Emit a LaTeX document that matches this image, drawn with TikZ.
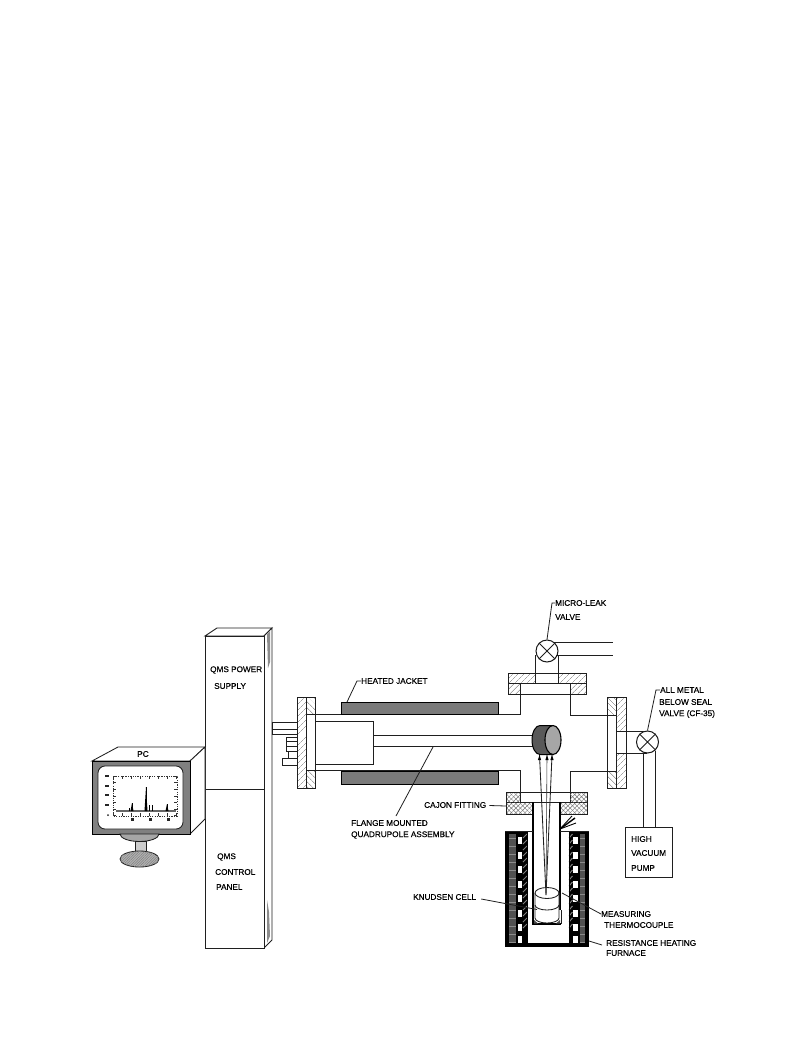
\documentclass[tikz,border=0pt]{standalone}
\usepackage{fontspec}
\setmainfont{Liberation Sans}[BoldFont={Liberation Sans},BoldFeatures={FakeBold=0.35}]
\usetikzlibrary{patterns.meta}
\tikzset{
 ln/.style={draw=black!88,line width=0.85pt},
 thin ln/.style={draw=black!80,line width=0.6pt},
 hatchA/.style={ln,pattern={Lines[angle=45,distance=4pt,line width=0.45pt]},pattern color=black!55},
 hatchB/.style={ln,pattern={Lines[angle=-45,distance=4pt,line width=0.45pt]},pattern color=black!55},
 xhatch/.style={ln,pattern={Lines[angle=45,distance=3.2pt,line width=0.45pt]},pattern color=black!55,
   postaction={pattern={Lines[angle=-45,distance=3.2pt,line width=0.45pt]},pattern color=black!55}},
 jacket/.style={draw=black,line width=0.9pt,fill=black!52},
 lbl/.style={anchor=west,inner sep=0pt,font=\fontsize{8.2}{9}\selectfont\bfseries,text=black},
 leader/.style={draw=black!88,line width=0.8pt},
 valve/.style={circle,draw=black!90,line width=1pt,fill=white,minimum size=22pt,inner sep=0pt},
 peak/.style={draw=black,line width=1pt},
 tick/.style={draw=black!80,line width=0.45pt},
}
\begin{document}
\begin{tikzpicture}[x=1pt,y=-1pt]
\useasboundingbox[fill=white] (0,0) rectangle (793,1057);

% ---- column
\draw[ln,fill=white] (205,636) -- (217,628) -- (272,628) -- (264,636) -- cycle;
\draw[ln,fill=white] (264,636) -- (272,628) -- (272,940) -- (264,948) -- cycle;
\fill[black!45] (267,634) -- (270,631) -- (270,662) -- (268,668) -- cycle;
\fill[black!45] (267,900) -- (269,912) -- (270,936) -- (267,943) -- cycle;
\draw[ln,fill=white] (205,636) rectangle (264,948);
\draw[ln] (205,789) -- (264,789);
\node[lbl] (qms1) at (210,670) {QMS POWER};
\node[lbl] (qms2) at (214,686) {SUPPLY};
\node[lbl] (qms3) at (217,857) {QMS};
\node[lbl] (qms4) at (215,872) {CONTROL};
\node[lbl] (qms5) at (216,887) {PANEL};

% ---- monitor
\draw[ln,fill=white] (92,761) -- (118,747) -- (205,747) -- (190,761) -- cycle;
\draw[ln,fill=white] (190,761) -- (205,747) -- (205,819) -- (190,834) -- cycle;
\draw[draw=black,line width=0.9pt,fill=black!50] (92,761) rectangle (190,834);
\draw[ln,fill=white,rounded corners=7pt] (98,766) rectangle (183,829);
\node[lbl,anchor=center] (pc) at (143,754) {PC};
% stand
\draw[ln,fill=black!35] (120,834) arc[start angle=180,end angle=0,x radius=19.5,y radius=7.5] -- cycle;
\draw[ln,fill=black!20] (135,841) rectangle (146,851);
\draw[ln,fill=black!30,postaction={pattern={Lines[angle=45,distance=1.8pt,line width=0.5pt]},pattern color=black!50}] (139.5,859) ellipse[x radius=19.5,y radius=8];
% plot
\draw[tick,dash pattern=on 1.2pt off 1.2pt] (113,776) rectangle (177,816);
\foreach \i in {0,...,6} {
  \draw[tick] (113,{776+\i*6.6}) -- (116,{776+\i*6.6});
  \draw[tick] (177,{776+\i*6.6}) -- (174,{776+\i*6.6});
}
\foreach \i in {0,...,7} {
  \draw[tick] ({113+\i*9.1},776) -- ({113+\i*9.1},779);
  \draw[tick] ({113+\i*9.1},816) -- ({113+\i*9.1},813);
}
\draw[line width=1.1pt,draw=black!60] (116,811) -- (176,811);
\foreach \px/\py in {129/808,132/803,146/787,149/805,152/805,167/804} {
  \draw[peak] (\px,811) -- (\px,\py);
}
\fill[black] (144.5,811) -- (146,787) -- (147.5,811) -- cycle;
\fill[black] (130.5,811) -- (132,803) -- (133.5,811) -- cycle;
\fill[black] (165.5,811) -- (167,804) -- (168.5,811) -- cycle;
\foreach \yy in {776,786,795,805} { \fill[black!85] (105,{\yy-1}) rectangle (109,{\yy+1}); }
\fill[black!85] (108,815) circle[radius=1];
\foreach \xx in {132,150,168} { \fill[black!85] ({\xx-1.5},818) rectangle ({\xx+1.5},821); }

% ---- left feedthrough
\draw[ln] (272,722) -- (297,722) (272,729) -- (297,729) (272,734) -- (297,734);
\draw[ln] (272,722) -- (272,734);
\draw[ln] (286,737) rectangle (297,751);
\draw[ln] (286,741.5) -- (297,741.5) (286,746) -- (297,746);
\draw[ln] (282,758) rectangle (297,765);
\draw[ln] (288,751) -- (288,758);

% ---- chamber walls
\draw[ln] (306,714) -- (520,714) -- (520,694);
\draw[ln] (306,770) -- (520,770) -- (520,792);
\draw[ln] (570,694) -- (570,715) -- (607,715);
\draw[ln] (570,792) -- (570,771) -- (607,771);
\draw[jacket] (341,702) rectangle (498,714);
\draw[jacket] (341,771) rectangle (498,784);

% left flange
\draw[hatchA] (297,697) rectangle (306,788);
\draw[ln] (306,697) rectangle (315,788);
\draw[hatchB] (306,697) rectangle (315,714);
\draw[hatchB] (306,770) rectangle (315,788);

% inner box and quadrupole
\draw[ln] (315,721) -- (373,721) -- (373,764) -- (315,764);
\draw[ln] (373,735) -- (533,735);
\draw[ln] (373,746) -- (533,746);

% top flange
\draw[ln] (508,673) rectangle (586,694);
\draw[hatchA] (508,673) rectangle (535,683);
\draw[hatchA] (558,673) rectangle (586,683);
\draw[hatchA] (508,683) rectangle (520,694);
\draw[hatchA] (570,683) rectangle (586,694);
\draw[ln] (535,683) -- (570,683);

% right flange
\draw[ln] (607,697) rectangle (626,788);
\draw[hatchB] (607,697) rectangle (616,715);
\draw[hatchB] (607,771) rectangle (616,788);
\draw[hatchA] (616,697) rectangle (626,731);
\draw[hatchA] (616,753) rectangle (626,788);
\draw[ln] (616,697) -- (616,788);

% micro-leak valve
\node[valve] (v1) at (547,651) {};
\draw[ln] (v1.north west) -- (v1.south east) (v1.north east) -- (v1.south west);
\draw[ln] (535.5,655) -- (535.5,673) (558,655) -- (558,673);
\coordinate (v1a) at (613,642);
\coordinate (v1b) at (613,655);
\draw[ln] (553,642) -- (v1a) (556,655) -- (v1b);
\node[lbl] (micro) at (555,603) {MICRO-LEAK};
\node[lbl] at (555,617) {VALVE};
\coordinate (micro knee) at (552,603);
\draw[leader] (micro.west) -- (micro knee) -- (v1.north);

% all metal valve
\draw[ln] (626,731) -- (647,731) (626,753) -- (647,753);
\node[valve] (v2) at (647.5,742) {};
\draw[ln] (v2.north west) -- (v2.south east) (v2.north east) -- (v2.south west);
\node[lbl] (allm) at (660,690) {ALL METAL};
\node[lbl] at (659,702) {BELOW SEAL};
\node[lbl] at (659,714) {VALVE (CF-35)};
\coordinate (allm knee) at (656,690);
\draw[leader] (allm.west) -- (allm knee) -- (v2.north);

% pump
\node[draw=black!88,line width=0.85pt,minimum width=47pt,minimum height=50pt,inner sep=0pt] (pump) at (648.5,852) {};
\draw[ln] (643,753) -- (643,827) (655,751) -- (655,827);
\node[lbl] at (631,839) {HIGH};
\node[lbl] at (631,853) {VACUUM};
\node[lbl] at (631,868) {PUMP};

% ---- furnace
\fill[black] (505,831) rectangle (589,947);
\fill[black!68] (509,834) rectangle (516,943);
\fill[black!68] (580,834) rectangle (585,943);
\foreach \yy in {838,846,...,942} {
  \draw[black!45,line width=0.6pt] (509,\yy) -- (516,\yy);
  \draw[black!45,line width=0.6pt] (580,\yy) -- (585,\yy);
}
\fill[white] (527,831) rectangle (569,943);
\foreach \yy in {837,852,866,881,895,910,924,936} {
  \fill[white] (517.5,\yy) rectangle (522,{\yy+7});
  \fill[white] (573,\yy) rectangle (578,{\yy+7});
}
\foreach \yy in {834,840,...,924} {
  \draw[black!50,line width=1pt] (523,{\yy+4}) -- (527,\yy);
  \draw[black!50,line width=1pt] (569,{\yy+4}) -- (572.5,\yy);
}
\draw[line width=0.9pt,black] (527,831) -- (527,943) -- (569,943) -- (569,831);

% ---- cajon fitting
\fill[white] (506,792) rectangle (587,814);
\draw[xhatch] (506,792) rectangle (520,802);
\draw[xhatch] (570,792) rectangle (587,802);
\draw[xhatch] (506,802) rectangle (533,814);
\draw[xhatch] (559,802) rectangle (587,814);
\draw[ln] (506,792) rectangle (587,814);
\draw[ln] (520,802) -- (570,802);

% ---- inner tube
\fill[white] (533,814) rectangle (560,924);
\draw[black,line width=1.1pt] (533,802) -- (533,924) -- (561,924);
\draw[ln] (561,910) -- (561,924);
\draw[black,line width=1.6pt] (560,802) -- (560,910);
\draw[ln] (505,831) -- (533,831) (560,831) -- (589,831);
% thermocouple tail
\coordinate (tail) at (560,829);
\coordinate (tail a) at (575,818);
\coordinate (tail b) at (576,823);
\coordinate (tail c) at (572,816);
\draw[black,line width=1.4pt] (tail) -- (tail a);
\draw[black,line width=0.9pt] (tail) -- (tail b) (tail) -- (tail c);

% ---- knudsen cell
\draw[ln,fill=white] (535,893) -- (535,918) arc[start angle=180,end angle=0,x radius=12,y radius=5] -- (559,893);
\draw[ln,fill=white] (547,893) ellipse[x radius=12,y radius=5.5];
\draw[ln] (535,905) arc[start angle=180,end angle=0,x radius=12,y radius=5];
\fill[black!70] (534,920) -- (538,923.5) -- (534,923.5) -- cycle;
\fill[black!70] (560,920) -- (556,923.5) -- (560,923.5) -- cycle;

% ---- ion source
\coordinate (apex) at (546,895);
\fill[black!65,draw=black,line width=1pt] (553,725.5)
  -- (540,725.5) arc[start angle=90,end angle=270,x radius=8,y radius=-14.5]
  -- (553,754.5) -- cycle;
\draw[black,line width=1.1pt,fill=black!35] (553,740) ellipse[x radius=8,y radius=14.5];
\coordinate (b1) at (539.5,755);
\coordinate (b2) at (547,755);
\coordinate (b3) at (552,755);
\draw[ln] (apex) -- (b1) (apex) -- (b3);
\draw[thin ln] (apex) -- (b2);
\foreach \b in {b1,b2,b3} { \fill[black] (\b) ++(-1.6,5) -- ++(1.6,-5) -- ++(1.6,5) -- cycle; }

% ---- labels and leaders
\node[lbl] (hj) at (361,681) {HEATED JACKET};
\coordinate (hj knee) at (357,681);
\coordinate (hj end) at (347,702);
\draw[leader] (hj.west) -- (hj knee) -- (hj end);

\node[lbl] (fm) at (351,823) {FLANGE MOUNTED};
\node[lbl] (qa) at (351,835) {QUADRUPOLE ASSEMBLY};
\coordinate (fm a) at (396,816);
\coordinate (fm b) at (433,747);
\draw[leader] (fm a) -- (fm b);

\node[lbl] (cj) at (424,805) {CAJON FITTING};
\coordinate (cj end) at (506,806);
\draw[leader] (cj.east) ++(3,0.5) -- (cj end);

\node[lbl] (kc) at (413,897) {KNUDSEN CELL};
\coordinate (kc end) at (537,909.5);
\draw[leader] (kc.east) ++(5,2) -- (kc end);

\node[lbl] (mt) at (601,914) {MEASURING};
\node[lbl] at (604,925) {THERMOCOUPLE};
\coordinate (mt end) at (562,893);
\draw[leader] (mt.west) -- (mt end);

\node[lbl] (rh) at (606,943) {RESISTANCE HEATING};
\node[lbl] at (606,953) {FURNACE};
\coordinate (rh end) at (589,941);
\draw[leader] (rh.west) ++(-4,2) -- (rh end);
\end{tikzpicture}
\end{document}
